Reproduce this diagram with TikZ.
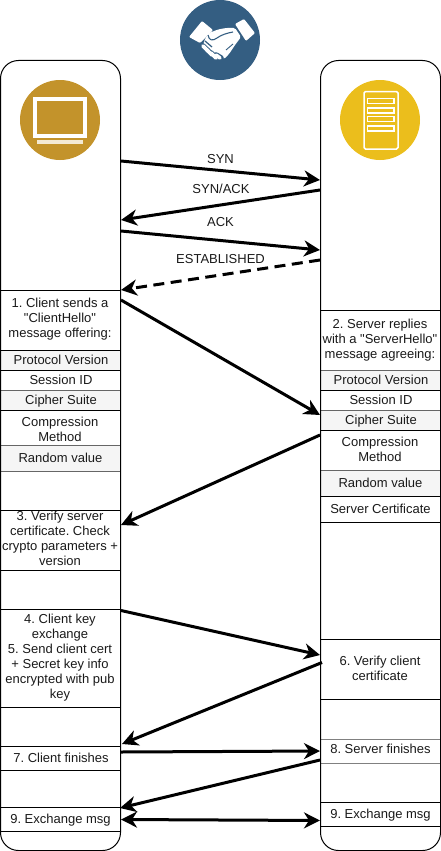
\documentclass[tikz,border=0pt]{standalone}
\usepackage{fontspec}
\setmainfont[Ligatures=TeXOff]{Liberation Sans}
\frenchspacing
\usetikzlibrary{arrows.meta}
\definecolor{hsblue}{HTML}{345E82}
\definecolor{clgold}{HTML}{C3932B}
\definecolor{svyel}{HTML}{EBBE1C}
\definecolor{cellgray}{HTML}{F5F5F5}
\definecolor{cellline}{HTML}{666666}
\definecolor{inktext}{HTML}{1A1A1A}
\tikzset{
  x=1pt,y=-1pt,
  lane/.style={draw=black,line width=1pt,rounded corners=18pt},
  plaincell/.style={draw=black,fill=white,line width=.9pt,minimum width=120pt,inner sep=0pt,outer sep=0pt},
  graycell/.style={draw=cellline,fill=cellgray,line width=.9pt,minimum width=120pt,inner sep=0pt,outer sep=0pt},
  thickcell/.style={draw=gray,fill=white,line width=1.4pt,minimum width=120pt,inner sep=0pt,outer sep=0pt},
  txt/.style={font=\fontsize{13}{15}\selectfont,text=inktext,align=center,inner sep=0pt,outer sep=0pt,yshift=-1pt},
  msg/.style={line width=3pt,black,-{Stealth[length=16pt,width=16pt,inset=5pt]}},
  iconline/.style={draw=white,line width=1.5pt,fill=none},
  bullet/.style={circle,inner sep=0pt,minimum size=80pt},
}
% #1 name, #2 style, #3 x centre of lane, #4 top, #5 bottom, #6 text x, #7 text y, #8 text
\newcommand{\lanecell}[8]{%
  \node[#2,minimum height={(#5-#4)*1pt}] (#1) at (#3,{(#4+#5)/2}) {};
  \node[txt] (#1t) at (#6,#7) {\strut #8\strut};
}
\begin{document}
\begin{tikzpicture}
\useasboundingbox (0,0) rectangle (441,851);
% icons
\node[bullet,fill=hsblue] (hs) at (220,40) {};
\node[bullet,fill=clgold] (cl) at (60,120) {};
\node[bullet,fill=svyel] (sv) at (380,120) {};
% monitor
\draw[draw=white,line width=4pt] (35,99) rectangle (85,136);
\fill[white,opacity=.8] (37,139.5) rectangle (83,144);
% server
\draw[iconline,rounded corners=1.5pt] (364,91.5) rectangle (398,149);
\draw[iconline] (367.5,98.5) rectangle (394,103.5);
\draw[iconline] (367.5,108) rectangle (394,113);
\draw[iconline] (367.5,116.5) rectangle (394,121.5);
\draw[iconline] (367.5,126) rectangle (394,131);
% handshake
\fill[white,rounded corners=1pt] (189,37) -- (202,21) -- (213,30) -- (200,43) -- cycle;
\fill[white,rounded corners=1pt] (235,24) -- (244,19) -- (255,33) -- (246,41) -- cycle;
\fill[white,rounded corners=1.5pt] (209,33) -- (218,29.5) -- (226,28) -- (235,28) -- (241,37) -- (235,45) -- (229,54) -- (224,59) -- (219,57) -- (211,52) -- (203,45) -- (205,39) -- cycle;
\draw[hsblue,line width=1.1pt] (208,35) .. controls (209,41) and (213,41) .. (217,38) .. controls (221,35) and (227,33) .. (233,32);
\draw[hsblue,line width=.9pt] (233,44) -- (226,50);
\draw[hsblue,line width=1.2pt] (205,41) -- (212,47);
\foreach \a/\b/\c/\d in {203/46/208/51, 207/50/212/55, 211/53/216/58, 216/55/221/58}{
  \draw[hsblue,line width=5.6pt,line cap=round] (\a,\b) -- (\c,\d);
}
\foreach \a/\b/\c/\d in {203/46/208/51, 207/50/212/55, 211/53/216/58, 216/55/220/58}{
  \draw[white,line width=3.6pt,line cap=round] (\a,\b) -- (\c,\d);
}
% left column
\lanecell{lpv}{graycell}{60.5}{350.5}{370.5}{61}{360}{Protocol Version}
\lanecell{lhello}{plaincell}{60.5}{290.5}{350.5}{60}{318}{1. Client sends a\\"ClientHello"\\message offering:}
\lanecell{lsid}{plaincell}{60.5}{370.5}{390.5}{61}{380}{Session ID}
\lanecell{lcs}{graycell}{60.5}{390.5}{410.5}{61}{400}{Cipher Suite}
\lanecell{lcomp}{plaincell}{60.5}{410.5}{445.5}{60}{429.5}{Compression\\Method}
\lanecell{lrnd}{graycell}{60.5}{445.5}{471.5}{60.5}{458}{Random value}
\lanecell{lverify}{plaincell}{60.5}{510.5}{570.5}{60}{538.5}{3. Verify server\\certificate. Check\\crypto parameters +\\version}
\lanecell{lkey}{plaincell}{60.5}{609.5}{707.5}{60}{656.5}{4. Client key\\exchange\\5. Send client cert\\+ Secret key info\\encrypted with pub\\key}
\lanecell{lfin}{plaincell}{60.5}{746.5}{770.5}{61}{758}{7. Client finishes}
\lanecell{lmsg}{plaincell}{60.5}{807.5}{831.5}{60.5}{819}{9. Exchange msg}
% right column
\lanecell{rhello}{plaincell}{380.5}{310.5}{370.5}{380}{339}{2. Server replies\\with a "ServerHello"\\message agreeing:}
\lanecell{rpv}{graycell}{380.5}{370.5}{390.5}{381}{380}{Protocol Version}
\lanecell{rsid}{plaincell}{380.5}{390.5}{410.5}{381}{400}{Session ID}
\lanecell{rcs}{graycell}{380.5}{410.5}{430.5}{381}{420}{Cipher Suite}
\lanecell{rcomp}{plaincell}{380.5}{430.5}{470.5}{380}{449.5}{Compression\\Method}
\lanecell{rrnd}{graycell}{380.5}{470.5}{496.5}{380.5}{483}{Random value}
\lanecell{rcert}{plaincell}{380.5}{496.5}{522.5}{380.5}{509}{Server Certificate}
\lanecell{rverify}{plaincell}{380.5}{639.5}{699.5}{380}{668.5}{6. Verify client\\certificate}
\lanecell{rfin}{thickcell}{380.5}{739.5}{763.5}{380.5}{749}{8. Server finishes}
\lanecell{rmsg}{plaincell}{380.5}{802.5}{826.5}{380.5}{814}{9. Exchange msg}
% swimlanes (outlines over the cell sides)
\draw[lane] (0.5,60.5) rectangle (120.5,850.5);
\draw[lane] (320.5,60.5) rectangle (440.5,850.5);
% connector ends
\coordinate (a1) at (121,161); \coordinate (b1) at (320,180);
\coordinate (b2) at (320,190); \coordinate (a2) at (121,220);
\coordinate (a3) at (121,231); \coordinate (b3) at (320,250);
\coordinate (b4) at (320,260); \coordinate (a4) at (121,290);
\coordinate (a5) at (121,300); \coordinate (b5) at (320,415);
\coordinate (b6) at (320,435); \coordinate (a6) at (121,525);
\coordinate (a7) at (121,610.5); \coordinate (b7) at (320,655);
\coordinate (b8) at (322,662.5); \coordinate (a8) at (122,744);
\coordinate (a9) at (121,752); \coordinate (b9) at (320,751);
\coordinate (b10) at (320,760); \coordinate (a10) at (120,808);
\coordinate (a11) at (121,819.5); \coordinate (b11) at (320,820.5);
% connectors
\draw[msg] (a1) -- (b1);
\draw[msg] (b2) -- (a2);
\draw[msg] (a3) -- (b3);
\draw[msg,dashed,dash pattern=on 11pt off 6.5pt] (b4) -- (a4);
\draw[msg] (a5) -- (b5);
\draw[msg] (b6) -- (a6);
\draw[msg] (a7) -- (b7);
\draw[msg] (b8) -- (a8);
\draw[msg] (a9) -- (b9);
\draw[msg] (b10) -- (a10);
\draw[line width=3pt,black,{Stealth[length=16pt,width=16pt,inset=5pt]}-{Stealth[length=16pt,width=16pt,inset=5pt]}] (a11) -- (b11);
% labels
\node[txt] (lsyn) at (220.5,159) {\strut SYN\strut};
\node[txt] (lsynack) at (221,189) {\strut SYN/ACK\strut};
\node[txt] (lack) at (220.5,222) {\strut ACK\strut};
\node[txt] (lest) at (220.5,259) {\strut ESTABLISHED\strut};
\end{tikzpicture}
\end{document}
